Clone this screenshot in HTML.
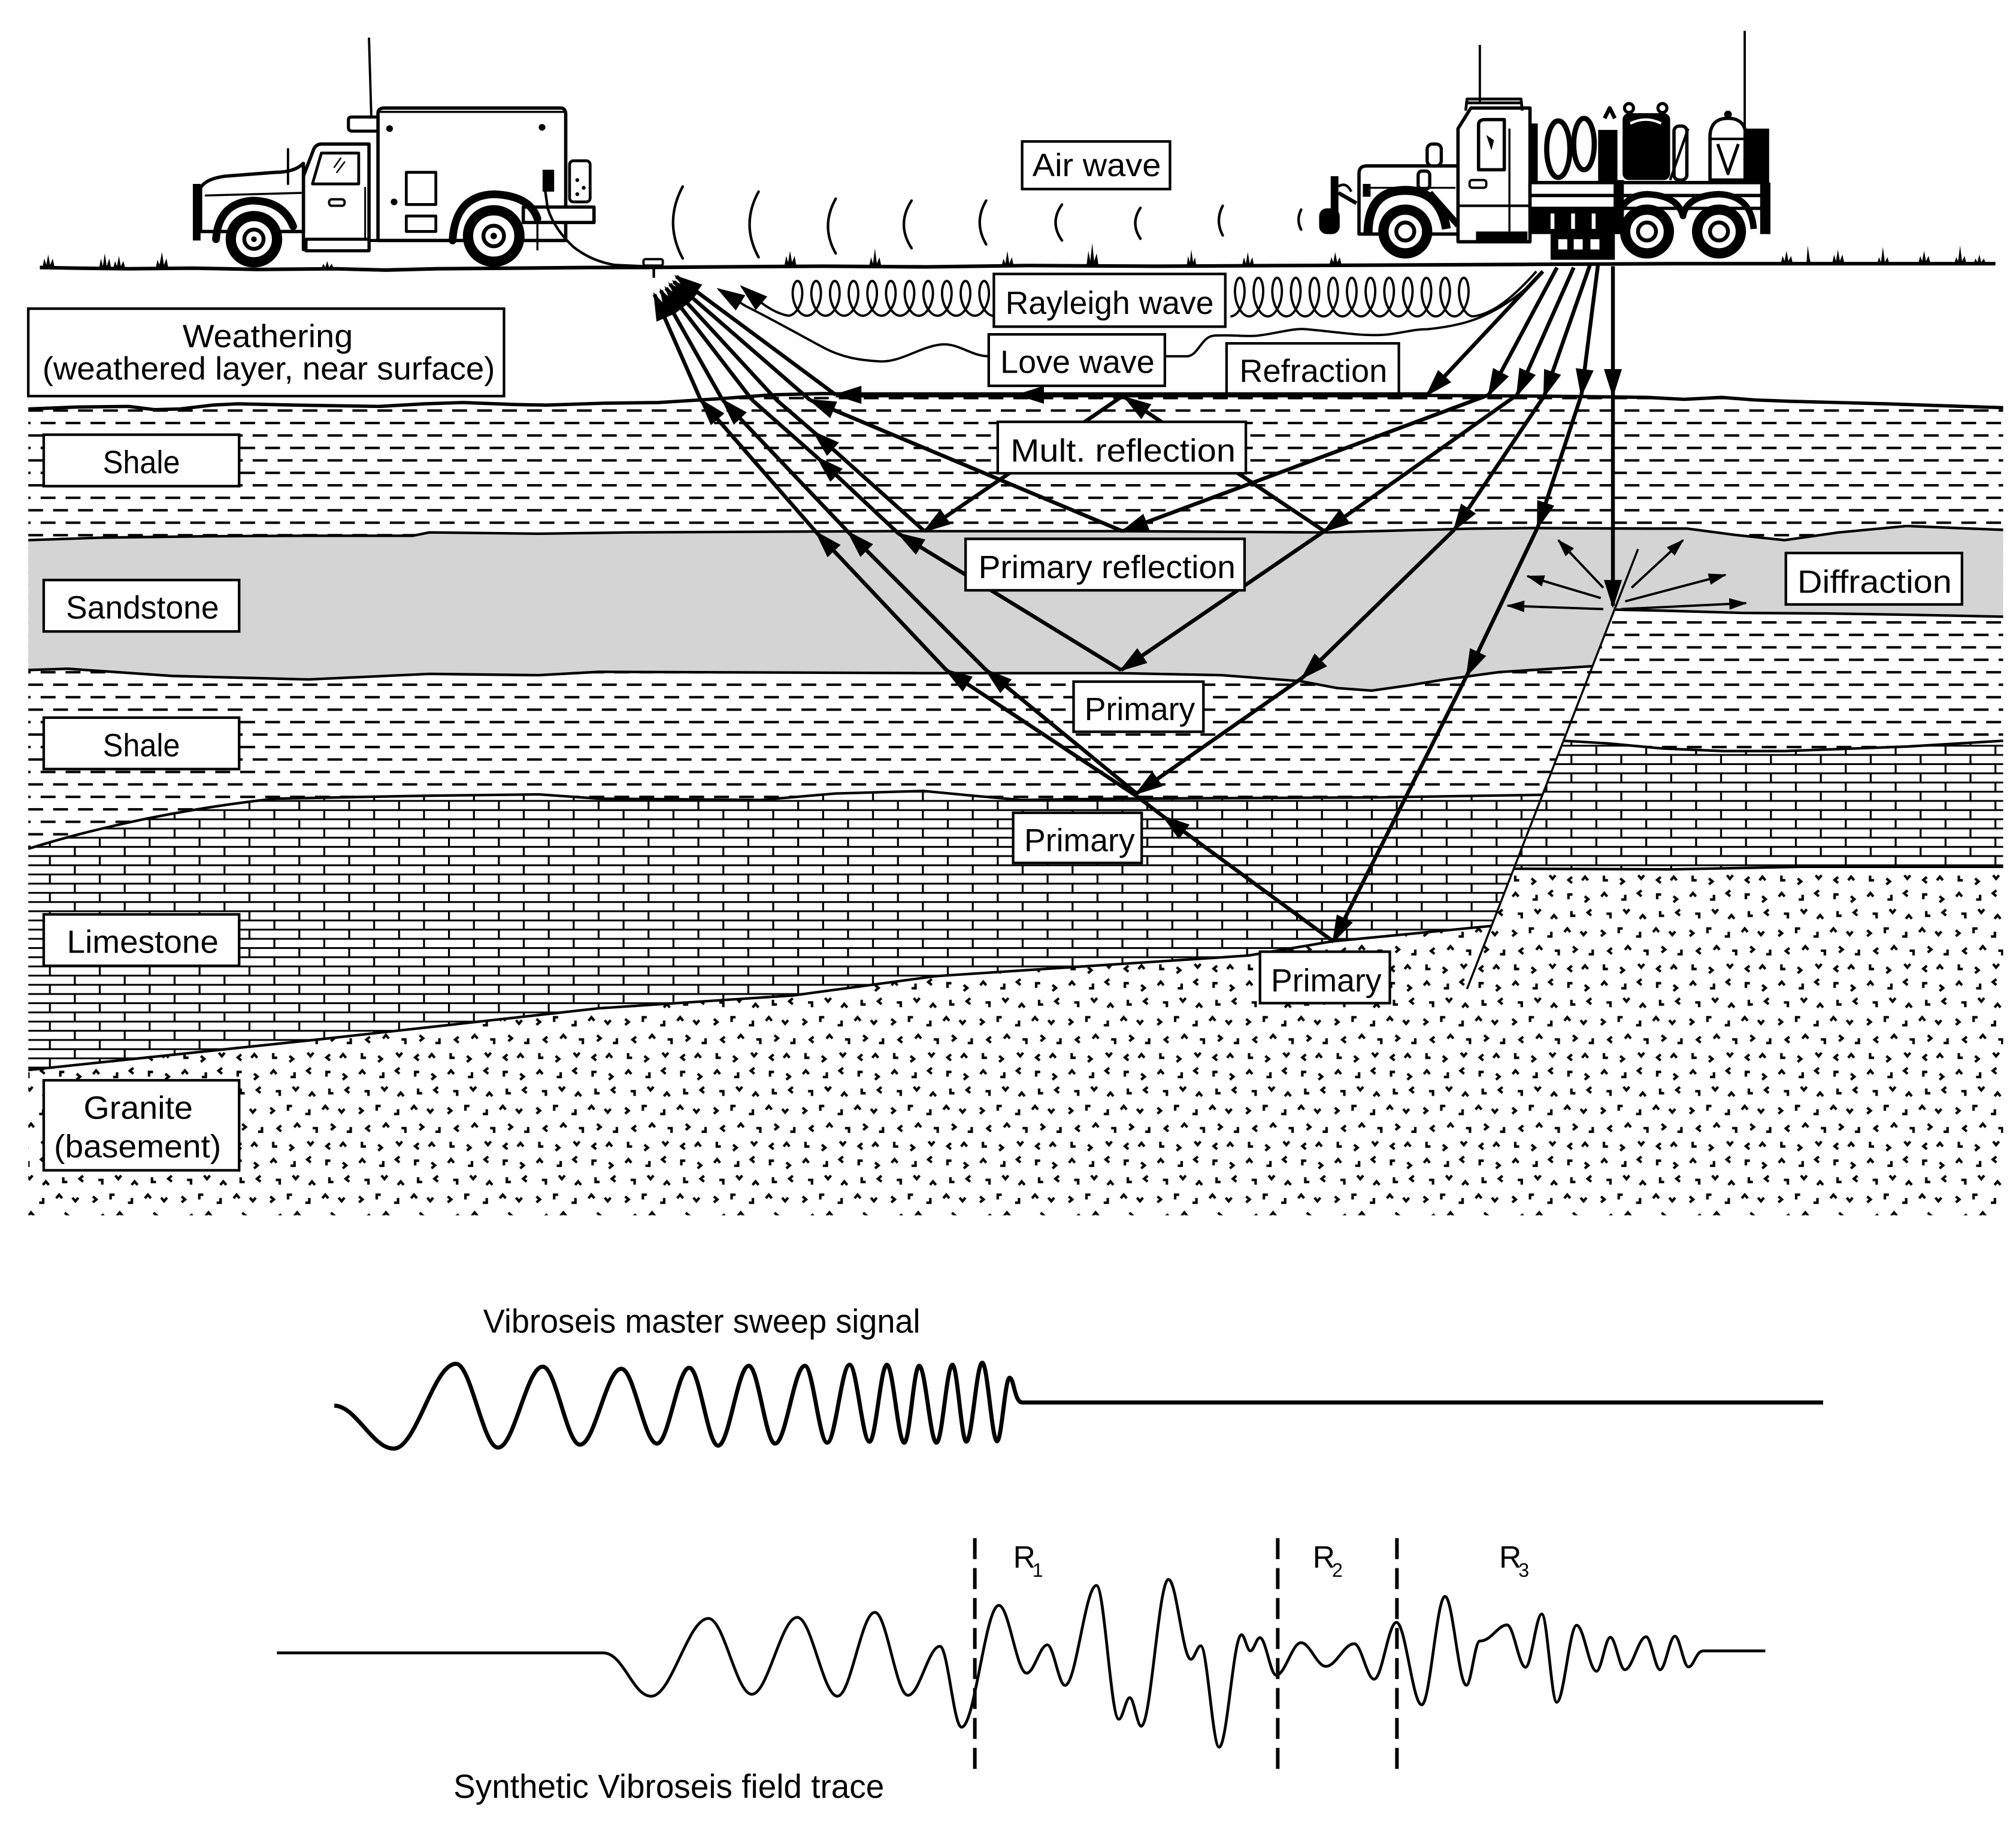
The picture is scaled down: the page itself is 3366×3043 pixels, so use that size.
<!DOCTYPE html>
<html><head><meta charset="utf-8"><style>html,body{margin:0;padding:0;background:#fff}svg{display:block}</style></head><body>
<svg xmlns="http://www.w3.org/2000/svg" width="3366" height="3043" viewBox="0 0 1568 1417.5" preserveAspectRatio="none">
<style>text{font-family:"Liberation Sans Narrow","Liberation Sans",sans-serif;font-size:25px;fill:#000}</style>
<defs>
<pattern id="dash" patternUnits="userSpaceOnUse" x="2.5" y="8.2" width="19.4" height="19.38">
<rect x="0" y="0" width="11.6" height="1.9" fill="#000"/>
<rect x="9.7" y="9.69" width="11.6" height="1.9" fill="#000"/>
<rect x="-9.7" y="9.69" width="11.6" height="1.9" fill="#000"/>
</pattern>
<pattern id="brick" patternUnits="userSpaceOnUse" x="-0.75" y="7.15" width="38.8" height="14.3">
<rect x="0" y="0" width="38.8" height="1.4" fill="#000"/>
<rect x="0" y="7.15" width="38.8" height="1.4" fill="#000"/>
<rect x="0" y="0" width="1.5" height="7.15" fill="#000"/>
<rect x="19.4" y="7.15" width="1.5" height="7.15" fill="#000"/>
</pattern>
<pattern id="gran" patternUnits="userSpaceOnUse" x="0" y="0" width="60" height="60" patternTransform="scale(1.15)">
<path fill="none" stroke="#000" stroke-width="1.7" d="M3,6.2 L5,3.8 L7,6.2 M19.2,5 L19.2,8.2 L16.5,8.2 M30.2,2 L27.8,4 L30.2,6 M43.5,4.8 L40.8,4.8 L40.8,8 M51.8,6 L54.2,8 L51.8,10 M6.5,17.8 L9.2,17.8 L9.2,21 M18,14.8 L20,17.2 L22,14.8 M29,21.2 L31,18.8 L33,21.2 M42.8,16 L42.8,19.2 L45.5,19.2 M56.2,15 L53.8,17 L56.2,19 M2.8,29 L5.2,31 L2.8,33 M17.5,27.8 L14.8,27.8 L14.8,31 M29.2,30 L29.2,33.2 L26.5,33.2 M38,30.2 L40,27.8 L42,30.2 M49,29.8 L51,32.2 L53,29.8 M10.2,41 L7.8,43 L10.2,45 M19,42.2 L21,39.8 L23,42.2 M31.5,42.8 L34.2,42.8 L34.2,46 M43.8,40 L46.2,42 L43.8,44 M57.2,42 L57.2,45.2 L54.5,45.2 M4.8,52 L4.8,55.2 L7.5,55.2 M15.8,54 L18.2,56 L15.8,58 M28,51.8 L30,54.2 L32,51.8 M43.2,53 L40.8,55 L43.2,57 M50,55.2 L52,52.8 L54,55.2"/>
</pattern>
<marker id="ah" markerUnits="userSpaceOnUse" markerWidth="22" markerHeight="15" viewBox="0 0 22 15" refX="20" refY="7.5" orient="auto"><path d="M0,0.5 L22,7.5 L0,14.5 Z" fill="#000"/></marker>
<marker id="ahs" markerUnits="userSpaceOnUse" markerWidth="14" markerHeight="10" viewBox="0 0 14 10" refX="13" refY="5" orient="auto"><path d="M0,0.5 L14,5 L0,9.5 Z" fill="#000"/></marker>
</defs>
<rect x="0" y="0" width="1568" height="1417.5" fill="#fff"/>

<!-- Layers -->
<rect x="22" y="300" width="1536" height="400" fill="url(#dash)"/>
<path fill="#fff" d="M22,296 L1558,296 L1558,317 L1467,314 L1392,312 L1365,311 L1339,309 L1310,310.5 L1281,309 L1200,308 L1110,307.5 L640,306 L600,307 L560,310 L512,313 L470,313.5 L425,315 L400,314.5 L360,313 L330,314 L295,316 L230,315 L185,314 L165,315 L140,318 L120,318.5 L100,316 L60,316.5 L22,318 Z"/>
<path fill="#d4d4d4" d="M22,420 L80,418 L160,417 L235,416.6 L321,416.6 L334,414 L419,415 L489,414 L691,413 L873,413 L1030,414 L1146,411 L1191,410.6 L1281,411 L1312,411 L1350,416 L1388,420 L1430,414 L1483,409 L1558,412 L1558,479.5 L1483,478 L1420,477 L1356,476.6 L1300,475 L1256,474 L1238.6,518 L1166,522.6 L1122,528.6 L1095,533 L1067,537 L1040,535 L1011,529.6 L950,525 L870,523.4 L718,523.4 L466,522.4 L419,525 L334,524 L240,528.3 L134,525.6 L53,520 L22,521 Z"/>
<path fill="#fff" d="M22,660 C60,648 130,630 214,621 L280,619.7 L334,618.7 L419,617.7 L466,621 L592,622 L650,617 L718,615 L760,619 L794,622 L870,621 L1072,620 L1199.7,618 L1160,720 L1036,732 L971,743 L728,759 L617,774 L466,784 L250,808 L22,832 Z"/>
<path fill="url(#brick)" d="M22,660 C60,648 130,630 214,621 L280,619.7 L334,618.7 L419,617.7 L466,621 L592,622 L650,617 L718,615 L760,619 L794,622 L870,621 L1072,620 L1199.7,618 L1160,720 L1036,732 L971,743 L728,759 L617,774 L466,784 L250,808 L22,832 Z"/>
<path fill="#fff" d="M1216,576 L1250,578 L1293,582 L1340,584 L1388,584 L1483,580.5 L1558,576 L1558,674 L1400,674 L1300,676 L1177.5,675.5 Z"/>
<path fill="url(#brick)" d="M1216,576 L1250,578 L1293,582 L1340,584 L1388,584 L1483,580.5 L1558,576 L1558,674 L1400,674 L1300,676 L1177.5,675.5 Z"/>
<path fill="#fff" d="M22,832 L250,808 L466,784 L617,774 L728,759 L971,743 L1036,732 L1160,720 L1177.5,675.5 L1300,676 L1400,674 L1558,674 L1558,945 L22,945 Z"/>
<path fill="url(#gran)" d="M22,832 L250,808 L466,784 L617,774 L728,759 L971,743 L1036,732 L1160,720 L1177.5,675.5 L1300,676 L1400,674 L1558,674 L1558,945 L22,945 Z"/>

<!-- Boundaries -->
<g fill="none" stroke="#000" stroke-linejoin="round">
<path stroke-width="2.6" d="M22,318 L60,316.5 L100,316 L120,318.5 L140,318 L165,315 L185,314 L230,315 L295,316 L330,314 L360,313 L400,314.5 L425,315 L470,313.5 L512,313 L560,310 L600,307 L640,306 L700,307 L800,307.5 L900,307.5 L1000,307.5 L1110,307.5 L1200,308 L1281,309 L1310,310.5 L1339,309 L1365,311 L1392,312 L1467,314 L1558,317"/>
<path stroke-width="2" d="M22,420 L80,418 L160,417 L235,416.6 L321,416.6 L334,414 L419,415 L489,414 L691,413 L873,413 L1030,414 L1146,411 L1191,410.6 L1281,411 L1312,411 L1350,416 L1388,420 L1430,414 L1483,409 L1558,412"/>
<path stroke-width="2" d="M22,521 L53,520 L134,525.6 L240,528.3 L334,524 L419,525 L466,522.4 L718,523.4 L870,523.4 L950,525 L1011,529.6 L1040,535 L1067,537 L1095,533 L1122,528.6 L1166,522.6 L1238.6,518"/>
<path stroke-width="2" d="M1256,474 L1300,475 L1356,476.6 L1420,477 L1483,478 L1558,479.5"/>
<path stroke-width="2" d="M22,660 C60,648 130,630 214,621 L280,619.7 L334,618.7 L419,617.7 L466,621 L592,622 L650,617 L718,615 L760,619 L794,622 L870,621 L1072,620 L1199.7,618"/>
<path stroke-width="2" d="M1216,576 L1250,578 L1293,582 L1340,584 L1388,584 L1483,580.5 L1558,576"/>
<path stroke-width="2" d="M1177.5,675.5 L1300,676 L1400,674 L1558,674"/>
<path stroke-width="2" d="M22,832 L250,808 L466,784 L617,774 L728,759 L971,743 L1036,732 L1160,720"/>
<path stroke-width="1.6" d="M1274,427 L1141,769"/>
</g>

<!-- Air wave arcs -->
<g fill="none" stroke="#000" stroke-width="2" stroke-linecap="round">
<path d="M531,145 Q516,173 531,201"/>
<path d="M590,149 Q576,174.5 590,200"/>
<path d="M650,154.5 Q638,176 650,197"/>
<path d="M709,156 Q697,174.5 709,193"/>
<path d="M767,156 Q757,173 767,190"/>
<path d="M826,159 Q816,173 826,187"/>
<path d="M887,161.6 Q879,173.6 887,185.6"/>
<path d="M951,160 Q945,171.5 951,183"/>
<path d="M1012,163 Q1008,171 1012,178.5"/>
</g>

<!-- Rayleigh loops -->
<g fill="none" stroke="#000" stroke-width="1.8">
<path d="M613,245.5 c4.875,0 9.42,-6.43 10.63,-13.5 c1.21,-7.07 -0.914,-13.5 -3.37,-13.5 c-2.456,0 -4.58,6.43 -3.37,13.5 c1.21,7.07 5.755,13.5 10.63,13.5 c4.875,0 9.42,-6.43 10.63,-13.5 c1.21,-7.07 -0.914,-13.5 -3.37,-13.5 c-2.456,0 -4.58,6.43 -3.37,13.5 c1.21,7.07 5.755,13.5 10.63,13.5 c4.875,0 9.42,-6.43 10.63,-13.5 c1.21,-7.07 -0.914,-13.5 -3.37,-13.5 c-2.456,0 -4.58,6.43 -3.37,13.5 c1.21,7.07 5.755,13.5 10.63,13.5 c4.875,0 9.42,-6.43 10.63,-13.5 c1.21,-7.07 -0.914,-13.5 -3.37,-13.5 c-2.456,0 -4.58,6.43 -3.37,13.5 c1.21,7.07 5.755,13.5 10.63,13.5 c4.875,0 9.42,-6.43 10.63,-13.5 c1.21,-7.07 -0.914,-13.5 -3.37,-13.5 c-2.456,0 -4.58,6.43 -3.37,13.5 c1.21,7.07 5.755,13.5 10.63,13.5 c4.875,0 9.42,-6.43 10.63,-13.5 c1.21,-7.07 -0.914,-13.5 -3.37,-13.5 c-2.456,0 -4.58,6.43 -3.37,13.5 c1.21,7.07 5.755,13.5 10.63,13.5 c4.875,0 9.42,-6.43 10.63,-13.5 c1.21,-7.07 -0.914,-13.5 -3.37,-13.5 c-2.456,0 -4.58,6.43 -3.37,13.5 c1.21,7.07 5.755,13.5 10.63,13.5 c4.875,0 9.42,-6.43 10.63,-13.5 c1.21,-7.07 -0.914,-13.5 -3.37,-13.5 c-2.456,0 -4.58,6.43 -3.37,13.5 c1.21,7.07 5.755,13.5 10.63,13.5 c4.875,0 9.42,-6.43 10.63,-13.5 c1.21,-7.07 -0.914,-13.5 -3.37,-13.5 c-2.456,0 -4.58,6.43 -3.37,13.5 c1.21,7.07 5.755,13.5 10.63,13.5 c4.875,0 9.42,-6.43 10.63,-13.5 c1.21,-7.07 -0.914,-13.5 -3.37,-13.5 c-2.456,0 -4.58,6.43 -3.37,13.5 c1.21,7.07 5.755,13.5 10.63,13.5 c4.875,0 9.42,-6.43 10.63,-13.5 c1.21,-7.07 -0.914,-13.5 -3.37,-13.5 c-2.456,0 -4.58,6.43 -3.37,13.5 c1.21,7.07 5.755,13.5 10.63,13.5"/>
<path d="M957,246 c4.875,0 9.42,-7.15 10.63,-15 c1.21,-7.85 -0.914,-15 -3.37,-15 c-2.456,0 -4.58,7.15 -3.37,15 c1.21,7.85 5.755,15 10.63,15 c4.875,0 9.42,-7.15 10.63,-15 c1.21,-7.85 -0.914,-15 -3.37,-15 c-2.456,0 -4.58,7.15 -3.37,15 c1.21,7.85 5.755,15 10.63,15 c4.875,0 9.42,-7.15 10.63,-15 c1.21,-7.85 -0.914,-15 -3.37,-15 c-2.456,0 -4.58,7.15 -3.37,15 c1.21,7.85 5.755,15 10.63,15 c4.875,0 9.42,-7.15 10.63,-15 c1.21,-7.85 -0.914,-15 -3.37,-15 c-2.456,0 -4.58,7.15 -3.37,15 c1.21,7.85 5.755,15 10.63,15 c4.875,0 9.42,-7.15 10.63,-15 c1.21,-7.85 -0.914,-15 -3.37,-15 c-2.456,0 -4.58,7.15 -3.37,15 c1.21,7.85 5.755,15 10.63,15 c4.875,0 9.42,-7.15 10.63,-15 c1.21,-7.85 -0.914,-15 -3.37,-15 c-2.456,0 -4.58,7.15 -3.37,15 c1.21,7.85 5.755,15 10.63,15 c4.875,0 9.42,-7.15 10.63,-15 c1.21,-7.85 -0.914,-15 -3.37,-15 c-2.456,0 -4.58,7.15 -3.37,15 c1.21,7.85 5.755,15 10.63,15 c4.875,0 9.42,-7.15 10.63,-15 c1.21,-7.85 -0.914,-15 -3.37,-15 c-2.456,0 -4.58,7.15 -3.37,15 c1.21,7.85 5.755,15 10.63,15 c4.875,0 9.42,-7.15 10.63,-15 c1.21,-7.85 -0.914,-15 -3.37,-15 c-2.456,0 -4.58,7.15 -3.37,15 c1.21,7.85 5.755,15 10.63,15 c4.875,0 9.42,-7.15 10.63,-15 c1.21,-7.85 -0.914,-15 -3.37,-15 c-2.456,0 -4.58,7.15 -3.37,15 c1.21,7.85 5.755,15 10.63,15 c4.875,0 9.42,-7.15 10.63,-15 c1.21,-7.85 -0.914,-15 -3.37,-15 c-2.456,0 -4.58,7.15 -3.37,15 c1.21,7.85 5.755,15 10.63,15 c4.875,0 9.42,-7.15 10.63,-15 c1.21,-7.85 -0.914,-15 -3.37,-15 c-2.456,0 -4.58,7.15 -3.37,15 c1.21,7.85 5.755,15 10.63,15 c4.875,0 9.42,-7.15 10.63,-15 c1.21,-7.85 -0.914,-15 -3.37,-15 c-2.456,0 -4.58,7.15 -3.37,15 c1.21,7.85 5.755,15 10.63,15"/>
<path d="M1145.8,246 C1162,244 1178,230 1195,211"/>
<path d="M613,245.5 C600,243 590,234 577,223" marker-end="url(#ah)"/>
<path d="M906,277 L923,277 C932,277 934,262 944,261 C958,260 968,262 978,261 C995,259 1005,255 1016,256 C1040,258 1060,262 1080,260 C1095,258 1100,256 1110,256 C1130,254 1145,250 1155,245 C1175,236 1190,222 1200,212"/>
<path d="M769,277 C755,277 745,266 731,268 C715,270 700,282 684,281 C668,280 655,278 640,270 C625,262 600,248 580,238 L559,225" marker-end="url(#ah)"/>
</g>

<!-- Rays -->
<g fill="none" stroke="#000" stroke-width="3" stroke-linecap="butt">
<line x1="1200" y1="211" x2="1110" y2="307" marker-end="url(#ah)"/>
<line x1="1110" y1="307" x2="792" y2="307" stroke-width="4" marker-end="url(#ah)"/>
<line x1="792" y1="307" x2="650" y2="307" stroke-width="4" marker-end="url(#ah)"/>
<line x1="650" y1="307" x2="526" y2="215" marker-end="url(#ah)"/>

<line x1="1211" y1="208" x2="1158" y2="307" marker-end="url(#ah)"/>
<line x1="1158" y1="307" x2="873" y2="413" marker-end="url(#ah)"/>
<line x1="873" y1="413" x2="630" y2="311" marker-end="url(#ah)"/>
<line x1="630" y1="311" x2="524" y2="219" marker-end="url(#ah)"/>

<line x1="1224" y1="208" x2="1180" y2="307" marker-end="url(#ah)"/>
<line x1="1180" y1="307" x2="1030" y2="413" marker-end="url(#ah)"/>
<line x1="1030" y1="413" x2="875" y2="309" marker-end="url(#ah)"/>
<line x1="873" y1="308" x2="719" y2="413" marker-end="url(#ah)"/>
<line x1="719" y1="413" x2="633" y2="336" marker-end="url(#ah)"/>
<line x1="633" y1="336" x2="604" y2="311"/>
<line x1="604" y1="311" x2="521" y2="221" marker-end="url(#ah)"/>

<line x1="1030" y1="413" x2="872" y2="521" marker-end="url(#ah)"/>
<line x1="872" y1="521" x2="699" y2="415" marker-end="url(#ah)"/>
<line x1="699" y1="415" x2="636" y2="356" marker-end="url(#ah)"/>
<line x1="636" y1="356" x2="585" y2="311"/>
<line x1="585" y1="311" x2="518" y2="224" marker-end="url(#ah)"/>

<line x1="1237" y1="205" x2="1201" y2="308" marker-end="url(#ah)"/>
<line x1="1201" y1="308" x2="1131" y2="412" marker-end="url(#ah)"/>
<line x1="1131" y1="412" x2="1013" y2="527" marker-end="url(#ah)"/>
<line x1="1013" y1="527" x2="884" y2="617" marker-end="url(#ah)"/>
<line x1="884" y1="617" x2="767" y2="521" marker-end="url(#ah)"/>
<line x1="767" y1="521" x2="660" y2="414" marker-end="url(#ah)"/>
<line x1="660" y1="414" x2="562" y2="311" marker-end="url(#ah)"/>
<line x1="562" y1="311" x2="514" y2="226" marker-end="url(#ah)"/>

<line x1="1243" y1="205" x2="1230" y2="307" marker-end="url(#ah)"/>
<line x1="1230" y1="307" x2="1196" y2="410" marker-end="url(#ah)"/>
<line x1="1196" y1="410" x2="1141" y2="525" marker-end="url(#ah)"/>
<line x1="1141" y1="525" x2="1037" y2="732" marker-end="url(#ah)"/>
<line x1="1037" y1="732" x2="905" y2="635" marker-end="url(#ah)"/>
<line x1="905" y1="635" x2="884" y2="619"/>
<line x1="884" y1="619" x2="736" y2="521" marker-end="url(#ah)"/>
<line x1="736" y1="521" x2="635" y2="414" marker-end="url(#ah)"/>
<line x1="635" y1="414" x2="545" y2="311" marker-end="url(#ah)"/>
<line x1="545" y1="311" x2="509" y2="229" marker-end="url(#ah)"/>

<line x1="1254.5" y1="207" x2="1254.5" y2="307" marker-end="url(#ah)"/>
<line x1="1254.5" y1="307" x2="1254.5" y2="471" marker-end="url(#ah)"/>
</g>
<g fill="none" stroke="#000" stroke-width="1.8">
<line x1="1247" y1="457" x2="1212" y2="420" marker-end="url(#ahs)"/>
<line x1="1245" y1="465" x2="1188" y2="448" marker-end="url(#ahs)"/>
<line x1="1247" y1="473.6" x2="1172.6" y2="471" marker-end="url(#ahs)"/>
<line x1="1269" y1="457" x2="1309" y2="420" marker-end="url(#ahs)"/>
<line x1="1264" y1="467.6" x2="1342" y2="447" marker-end="url(#ahs)"/>
<line x1="1261" y1="473.6" x2="1358" y2="469" marker-end="url(#ahs)"/>
</g>

<!-- Label boxes -->
<g fill="#fff" stroke="#000" stroke-width="2">
<rect x="795" y="110" width="115" height="37"/>
<rect x="773" y="213" width="180" height="41"/>
<rect x="769" y="260" width="137" height="40"/>
<rect x="954" y="267" width="134" height="39"/>
<rect x="776" y="328" width="193" height="40"/>
<rect x="751" y="419" width="217" height="40"/>
<rect x="835" y="530" width="101" height="39"/>
<rect x="788" y="632" width="100" height="39"/>
<rect x="980" y="740" width="101" height="40"/>
<rect x="1389" y="430" width="137" height="40"/>
<rect x="22" y="240" width="370" height="68"/>
<rect x="34" y="338" width="152" height="40"/>
<rect x="34" y="451" width="152" height="40"/>
<rect x="34" y="558" width="152" height="40"/>
<rect x="34" y="711" width="152" height="40"/>
<rect x="34" y="840" width="152" height="70"/>
</g>
<g>
<text x="803" y="137" textLength="100" lengthAdjust="spacingAndGlyphs">Air wave</text>
<text x="782" y="244" textLength="162" lengthAdjust="spacingAndGlyphs">Rayleigh wave</text>
<text x="778" y="290" textLength="120" lengthAdjust="spacingAndGlyphs">Love wave</text>
<text x="964" y="297" textLength="115" lengthAdjust="spacingAndGlyphs">Refraction</text>
<text x="786" y="359" textLength="175" lengthAdjust="spacingAndGlyphs">Mult. reflection</text>
<text x="761" y="449.5" textLength="200" lengthAdjust="spacingAndGlyphs">Primary reflection</text>
<text x="843.5" y="560" textLength="86" lengthAdjust="spacingAndGlyphs">Primary</text>
<text x="796.6" y="662" textLength="86" lengthAdjust="spacingAndGlyphs">Primary</text>
<text x="988.5" y="771" textLength="86" lengthAdjust="spacingAndGlyphs">Primary</text>
<text x="1398" y="461" textLength="120" lengthAdjust="spacingAndGlyphs">Diffraction</text>
<text x="142" y="270" textLength="132.5" lengthAdjust="spacingAndGlyphs">Weathering</text>
<text x="33" y="295" textLength="352" lengthAdjust="spacingAndGlyphs">(weathered layer, near surface)</text>
<text x="80" y="368" textLength="60" lengthAdjust="spacingAndGlyphs">Shale</text>
<text x="51.3" y="481" textLength="119" lengthAdjust="spacingAndGlyphs">Sandstone</text>
<text x="80" y="588" textLength="60" lengthAdjust="spacingAndGlyphs">Shale</text>
<text x="52" y="741" textLength="118" lengthAdjust="spacingAndGlyphs">Limestone</text>
<text x="65" y="870" textLength="85" lengthAdjust="spacingAndGlyphs">Granite</text>
<text x="42" y="900" textLength="130" lengthAdjust="spacingAndGlyphs">(basement)</text>
</g>

<!-- Left truck -->
<g fill="none" stroke="#000" stroke-linejoin="round" stroke-linecap="round">
<line x1="287" y1="30" x2="289" y2="98" stroke-width="1.8"/>
<path d="M271,93 Q271,91 274,91 L294,91 L294,102 L274,102 Q271,102 271,99 Z" fill="#fff" stroke-width="2.4"/>
<path d="M294,187 L294,88 Q294,84 299,84 L436,84 Q440,84 440,89 L440,187 Z" fill="#fff" stroke-width="2.6"/>
<line x1="296" y1="87" x2="438" y2="87" stroke-width="1.6"/>
<rect x="316" y="134" width="23" height="25" stroke-width="2.2"/>
<rect x="316" y="168" width="23" height="12" stroke-width="2.2"/>
<circle cx="303" cy="100" r="2.6" fill="#000" stroke="none"/>
<circle cx="421.6" cy="99" r="2.6" fill="#000" stroke="none"/>
<circle cx="306.5" cy="157" r="2.6" fill="#000" stroke="none"/>
<rect x="422" y="132" width="9" height="17" fill="#000" stroke="none"/>
<rect x="443" y="125" width="16" height="32" rx="3" fill="#fff" stroke-width="2.2"/>
<circle cx="449" cy="140" r="1" fill="#000"/><circle cx="454" cy="146" r="1" fill="#000"/><circle cx="449" cy="151" r="1" fill="#000"/>
<rect x="407" y="161" width="55" height="12" fill="#fff" stroke-width="2.6"/>
<line x1="418" y1="173" x2="418" y2="194" stroke-width="1.6"/>
<path d="M287,194 L287,112 L250,112 Q246,112 244,116 L236,137 L236,194 Z" fill="#fff" stroke-width="2.6"/>
<path d="M250,119 L279,119 L279,143 L243,143 Z" stroke-width="2.2"/>
<path d="M260,130 l5,-7 M262,134 l6,-8" stroke-width="1.2"/>
<rect x="256" y="155" width="12" height="5" rx="2" stroke-width="1.8"/>
<line x1="284" y1="146" x2="284" y2="186" stroke-width="1.4"/>
<rect x="238" y="186" width="49" height="9" fill="#fff" stroke-width="2.4"/>
<path d="M236,127 Q229,134 214,134 L175,137 Q160,139 156,146 L156,180 L236,180 Z" fill="#fff" stroke-width="2.6"/>
<line x1="160" y1="152" x2="234" y2="150" stroke-width="1.6"/>
<rect x="150" y="143" width="6" height="44" fill="#000" stroke="none"/>
<line x1="224" y1="116" x2="224" y2="143" stroke-width="1.8"/>
<path d="M168,186 Q170,158 196,156 Q220,156 228,176" stroke-width="6"/>
<line x1="287" y1="187" x2="355" y2="187" stroke-width="2.4"/>
<path d="M352,187 Q354,152 384,151 Q412,152 418,170" stroke-width="6"/>
<circle cx="197.5" cy="186" r="18" fill="#fff" stroke-width="8"/>
<circle cx="197.5" cy="186" r="7.5" stroke-width="3"/>
<circle cx="197.5" cy="186" r="2.2" fill="#000" stroke="none"/>
<circle cx="384" cy="183.5" r="20" fill="#fff" stroke-width="8"/>
<circle cx="384" cy="183.5" r="8" stroke-width="3"/>
<circle cx="384" cy="183.5" r="2.5" fill="#000" stroke="none"/>
<path d="M424,148 L426,162 Q431,178 446,192 Q460,203 478,206 L500,207" stroke-width="2"/>
</g>
<rect x="500.5" y="201.5" width="15" height="5" rx="1.5" fill="#fff" stroke="#000" stroke-width="1.8"/>
<line x1="508.5" y1="206.5" x2="508.5" y2="216" stroke="#000" stroke-width="2"/>

<!-- Right truck -->
<g fill="none" stroke="#000" stroke-linejoin="round">
<line x1="1151" y1="35" x2="1151" y2="80" stroke-width="1.8"/>
<line x1="1357" y1="24" x2="1357" y2="102" stroke-width="1.8"/>
<rect x="1026" y="162" width="16" height="20" rx="6" fill="#000" stroke="none"/>
<rect x="1035" y="137" width="6" height="30" fill="#000" stroke="none"/>
<path d="M1041,150 L1055,158" stroke-width="3"/>
<path d="M1041,145 q6,-4 10,4" stroke-width="2"/>
<path d="M1057,182 L1057,135 Q1057,129 1063,129 L1136,129 L1136,182 Z" fill="#fff" stroke-width="2.6"/>
<line x1="1062" y1="146" x2="1132" y2="146" stroke-width="1.5"/>
<rect x="1060" y="143" width="6" height="10" fill="#000" stroke="none"/>
<rect x="1103" y="133" width="9" height="14" rx="3" stroke-width="2.5"/>
<rect x="1110" y="112" width="11" height="17" rx="4" fill="#fff" stroke-width="2.5"/>
<path d="M1064,182 Q1064,148 1093,148 Q1120,148 1125,178" stroke-width="7"/>
<path d="M1112,150 L1134,175" stroke-width="5"/>
<path d="M1134,188 L1134,100 L1144,84 L1190,84 L1190,188 Z" fill="#fff" stroke-width="2.6"/>
<path d="M1140,86 L1141,77 L1183,77 L1184,86 M1141,80 L1183,80" stroke-width="2.2"/>
<path d="M1150,132 L1150,97 Q1150,93 1155,93 L1170,93 L1170,132 Z" stroke-width="2.6"/>
<path d="M1156,105 l4,12 l2,-8 z" fill="#000" stroke="none"/>
<rect x="1143" y="140" width="13" height="6" rx="2" stroke-width="1.8"/>
<line x1="1174" y1="100" x2="1174" y2="186" stroke-width="1.6"/>
<line x1="1134" y1="160" x2="1190" y2="160" stroke-width="2"/>
<rect x="1148" y="180" width="40" height="9" fill="#000" stroke="none"/>
<rect x="1190" y="96" width="6" height="48" fill="#000" stroke="none"/>
<ellipse cx="1212" cy="116" rx="9" ry="22" stroke-width="4"/>
<ellipse cx="1232" cy="112" rx="8" ry="20" stroke-width="4"/>
<rect x="1243" y="101" width="15" height="40" fill="#000" stroke="none"/>
<path d="M1248,92 l4,-8 l4,8" stroke-width="3"/>
<rect x="1262" y="88" width="37" height="52" rx="5" fill="#000" stroke="none"/>
<circle cx="1267" cy="84" r="3.5" stroke-width="2.4"/>
<circle cx="1293" cy="84" r="3.5" stroke-width="2.4"/>
<path d="M1268,96 Q1280,90 1292,96" stroke="#fff" stroke-width="2"/>
<rect x="1302" y="98" width="10" height="42" rx="4" fill="#fff" stroke-width="2.6"/>
<line x1="1299" y1="140" x2="1313" y2="100" stroke-width="2"/>
<path d="M1330,140 L1330,105 Q1331,92 1344,92 Q1357,92 1358,105 L1358,140 Z" fill="#fff" stroke-width="2.6"/>
<path d="M1330,108 L1358,108" stroke-width="2"/>
<path d="M1336,112 L1344,135 L1352,112" stroke-width="2.4"/>
<circle cx="1344" cy="89" r="2.5" fill="#000"/>
<rect x="1356" y="100" width="20" height="45" fill="#000" stroke="none"/>
<rect x="1190" y="142" width="182" height="10" fill="#fff" stroke-width="2.6"/>
<rect x="1190" y="152" width="182" height="10" fill="#fff" stroke-width="2.6"/>
<rect x="1255" y="140" width="8" height="42" fill="#000" stroke="none"/>
<rect x="1369" y="142" width="8" height="40" fill="#000" stroke="none"/>
<rect x="1190" y="162" width="70" height="20" fill="#000" stroke="none"/>
<rect x="1206" y="166" width="3" height="12" fill="#fff" stroke="none"/>
<rect x="1222" y="166" width="3" height="12" fill="#fff" stroke="none"/>
<rect x="1238" y="166" width="3" height="12" fill="#fff" stroke="none"/>
<rect x="1206" y="181" width="50" height="21" fill="#000" stroke="none"/>
<rect x="1212" y="186" width="7" height="8" fill="#fff" stroke="none"/>
<rect x="1224" y="186" width="7" height="8" fill="#fff" stroke="none"/>
<rect x="1237" y="186" width="7" height="8" fill="#fff" stroke="none"/>
<path d="M1257,180 Q1258,152 1281,151 Q1305,152 1309,168 Q1312,152 1337,151 Q1362,152 1364,178" stroke-width="5"/>
<circle cx="1093" cy="180" r="17" fill="#fff" stroke-width="8"/>
<circle cx="1093" cy="180" r="7" stroke-width="3"/>
<circle cx="1281" cy="180" r="17" fill="#fff" stroke-width="8"/>
<circle cx="1281" cy="180" r="7" stroke-width="3"/>
<circle cx="1337" cy="180" r="17" fill="#fff" stroke-width="8"/>
<circle cx="1337" cy="180" r="7" stroke-width="3"/>
</g>

<!-- Ground -->
<path fill="none" stroke="#000" stroke-width="2.8" stroke-linejoin="round" d="M31,208 L60,208.5 L100,209 L150,208.5 L200,209.5 L260,209 L300,210 L340,209 L400,208.5 L460,208 L500,208 L560,207.5 L640,207 L720,207.5 L800,206.5 L900,207 L1000,206.5 L1100,206 L1200,205.5 L1300,205 L1420,205 L1552,205"/>
<path fill="#000" d="M33,208 l1.5,-7 l1.5,5 l1.5,-8 l1.5,8 l2,-5 l1.5,7 z M77,209 l1.5,-8 l1.5,6 l1.5,-10 l1.5,10 l2,-6 l1.5,8 z M88,209 l1.5,-6 l1.5,4 l1.5,-8 l1.5,8 l2,-4 l1.5,6 z M121,209 l1.5,-7 l1.5,4 l2,-10 l1.5,10 l2,-5 l1.5,8 z M250,209 l1.5,-4 l1.5,3 l1.5,-5 l1.5,5 l2,-3 l1.5,4 z M610,207 l1.5,-8 l1.5,5 l1.5,-9 l1.5,9 l2,-5 l1.5,8 z M676,207 l1.5,-7 l1.5,5 l1.5,-12 l1.5,12 l2,-5 l1.5,7 z M779,207 l1.5,-6 l1.5,4 l1.5,-10 l1.5,10 l2,-5 l1.5,7 z M845,207 l1.5,-12 l1.5,8 l1.5,-14 l1.5,14 l2,-6 l1.5,10 z M923,207 l1,-8 l1.5,5 l1,-10 l1.5,10 l1.5,-4 l1,7 z M966,207 l1.5,-7 l1.5,5 l1.5,-9 l1.5,9 l2,-5 l1.5,7 z M1034,206 l1.5,-6 l1.5,4 l1.5,-8 l1.5,8 l2,-4 l1.5,6 z M1385,205 l1.5,-6 l1.5,4 l1.5,-8 l1.5,8 l2,-4 l1.5,6 z M1405,205 l1,-14 l1.5,10 l1,4 z M1425,205 l1.5,-7 l1.5,5 l1.5,-9 l1.5,9 l2,-5 l1.5,7 z M1460,205 l1.5,-5 l1.5,4 l1.5,-12 l1.5,12 l2,-4 l1.5,5 z M1492,205 l1.5,-6 l1.5,4 l1.5,-8 l1.5,8 l2,-4 l1.5,6 z M1520,205 l1.5,-5 l1.5,3 l1.5,-12 l1.5,12 l2,-4 l1.5,6 z M1535,205 l1.5,-4 l1.5,3 l1.5,-6 l1.5,6 l2,-3 l1.5,4 z"/>

<!-- Sweep signal -->
<text x="375.8" y="1036.3" textLength="340" lengthAdjust="spacingAndGlyphs" style="font-size:26px">Vibroseis master sweep signal</text>
<path fill="none" stroke="#000" stroke-width="3.2" stroke-linejoin="round" d="M260,1093 C276.7,1093 289.6,1126.4 306.3,1126.4 C323.7,1126.4 337.2,1060.4 354.6,1060.4 C366.4,1060.4 375.6,1125.6 387.4,1125.6 C399.9,1125.6 409.6,1062.7 422.1,1062.7 C432.5,1062.7 440.7,1123.3 451.1,1123.3 C462.7,1123.3 471.6,1064.3 483.2,1064.3 C493.2,1064.3 501,1122.5 511,1122.5 C520,1122.5 527.1,1063.5 536.1,1063.5 C544.2,1063.5 550.4,1124.1 558.5,1124.1 C567.1,1124.1 573.8,1062 582.4,1062 C589.8,1062 595.5,1122.5 602.9,1122.5 C611.2,1122.5 617.7,1062 626,1062 C632.3,1062 637.1,1121.8 643.4,1121.8 C649.7,1121.8 654.5,1061.2 660.8,1061.2 C666.4,1061.2 670.7,1121 676.3,1121 C681.2,1121 684.9,1061.2 689.8,1061.2 C694.7,1061.2 698.4,1121.8 703.3,1121.8 C707.5,1121.8 710.7,1062 714.9,1062 C719.8,1062 723.5,1121.8 728.4,1121.8 C732.9,1121.8 736.3,1061.2 740.8,1061.2 C744.7,1061.2 747.7,1121 751.6,1121 C756.1,1121 759.5,1059.6 764,1059.6 C768.1,1059.6 771.4,1120.7 775.5,1120.7 C779,1120.7 781.7,1071.3 785.2,1071.3 C788.7,1071.3 789,1090.5 795,1090.5 L1418,1090.5"/>

<!-- Field trace -->
<g fill="none" stroke="#000" stroke-width="2.8" stroke-dasharray="16.3 7">
<line x1="758.2" y1="1196" x2="758.2" y2="1377"/>
<line x1="993.8" y1="1196" x2="993.8" y2="1377"/>
<line x1="1086.5" y1="1196" x2="1086.5" y2="1377"/>
</g>
<path fill="none" stroke="#000" stroke-width="2.2" stroke-linejoin="round" d="M215.4,1285.2 L469.1,1285.2 C485,1285.2 492,1318.9 506.5,1318.9 C522.5,1318.9 535,1258.4 551,1258.4 C563.1,1258.4 572.6,1317.4 584.7,1317.4 C597.4,1317.4 607.4,1257.6 620.1,1257.6 C631.3,1257.6 640.1,1318.9 651.3,1318.9 C661.8,1318.9 669.9,1253.7 680.4,1253.7 C689.7,1253.7 696.9,1318.2 706.2,1318.2 C715.2,1318.2 722.1,1280.1 731.1,1280.1 C737.1,1280.1 741.8,1343 747.8,1343 C758.3,1343 766.4,1248.3 776.9,1248.3 C784.7,1248.3 790.7,1301 798.5,1301 C804.3,1301 808.8,1279 814.6,1279 C819.5,1279 823.4,1310.5 828.3,1310.5 C837.1,1310.5 844,1232.8 852.8,1232.8 C859.1,1232.8 863.9,1336.8 870.2,1336.8 C873.3,1336.8 875.6,1320 878.7,1320 C881.9,1320 884.4,1342.2 887.6,1342.2 C895.2,1342.2 901.2,1228.1 908.8,1228.1 C915.1,1228.1 919.9,1290.2 926.2,1290.2 C929,1290.2 931.1,1279.7 933.9,1279.7 C939,1279.7 943.1,1358.5 948.2,1358.5 C954.5,1358.5 959.3,1271.1 965.6,1271.1 C968.1,1271.1 970,1283.7 972.5,1283.7 C975.2,1283.7 977.2,1273.4 979.9,1273.4 C984.5,1273.4 988,1302.6 992.6,1302.6 C999.5,1302.6 1005,1277.3 1011.9,1277.3 C1018.8,1277.3 1024.3,1295.7 1031.2,1295.7 C1039.2,1295.7 1045.3,1278.1 1053.3,1278.1 C1058.8,1278.1 1063.2,1305.7 1068.7,1305.7 C1075,1305.7 1079.8,1261.5 1086.1,1261.5 C1093.2,1261.5 1098.7,1325.6 1105.8,1325.6 C1112.3,1325.6 1117.4,1241.3 1123.9,1241.3 C1129.9,1241.3 1134.5,1310.4 1140.5,1310.4 C1144.3,1310.4 1147,1276 1151,1276 C1160,1276 1165,1263.5 1172.2,1263.5 C1177.3,1263.5 1181.4,1296.4 1186.5,1296.4 C1191.1,1296.4 1194.6,1255 1199.2,1255 C1203.4,1255 1206.6,1323.6 1210.8,1323.6 C1216.4,1323.6 1220.7,1263.8 1226.3,1263.8 C1231.8,1263.8 1236.2,1299.5 1241.7,1299.5 C1245.6,1299.5 1248.6,1273.1 1252.5,1273.1 C1256.5,1273.1 1259.7,1298.3 1263.7,1298.3 C1269.7,1298.3 1274.3,1272.7 1280.3,1272.7 C1284.2,1272.7 1287.3,1298.3 1291.2,1298.3 C1295.3,1298.3 1298.6,1272.2 1302.7,1272.2 C1306.5,1272.2 1309.4,1296.1 1313.2,1296.1 C1317.5,1296.1 1319,1283.7 1324.8,1283.7 L1373,1283.7"/>
<text x="788" y="1219" style="font-size:24px">R</text><text x="803" y="1226" style="font-size:15px">1</text>
<text x="1021" y="1219" style="font-size:24px">R</text><text x="1036" y="1226" style="font-size:15px">2</text>
<text x="1166" y="1219" style="font-size:24px">R</text><text x="1181" y="1226" style="font-size:15px">3</text>
<text x="352.7" y="1398" textLength="335" lengthAdjust="spacingAndGlyphs" style="font-size:26px">Synthetic Vibroseis field trace</text>
</svg>
</body></html>
